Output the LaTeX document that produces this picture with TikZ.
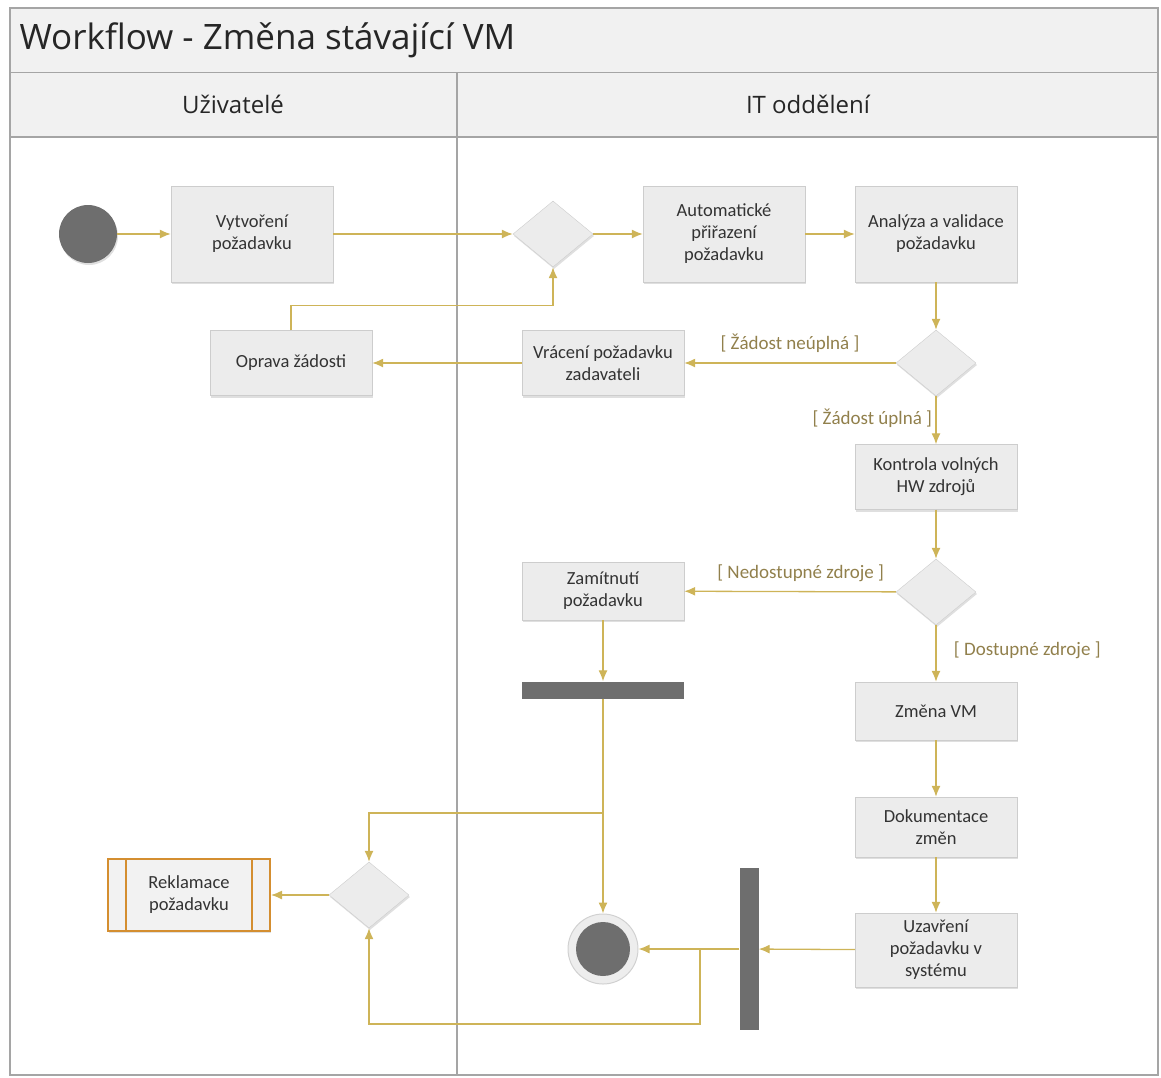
\documentclass[tikz,border=0pt]{standalone}
\usepackage{fontspec}
\setmainfont{Carlito}
\newfontfamily\headfont{Open Sans}
\usetikzlibrary{shapes.geometric,shadows,arrows.meta}
\definecolor{flow}{RGB}{206,180,88}
\definecolor{guard}{RGB}{145,128,76}
\definecolor{boxfill}{RGB}{236,236,236}
\definecolor{boxline}{RGB}{205,205,205}
\definecolor{dark}{RGB}{110,110,110}
\definecolor{lane}{RGB}{165,165,165}
\definecolor{band}{RGB}{241,241,241}
\definecolor{reklline}{RGB}{212,142,48}
\begin{document}
\begin{tikzpicture}[x=1pt,y=-1pt,>={Latex[length=11pt,width=9pt]},
  act/.style={draw=boxline,fill=boxfill,minimum width=162pt,inner sep=2pt,align=center,
    font=\fontsize{18.5}{22}\selectfont,text=black!80,
    drop shadow={shadow xshift=1pt,shadow yshift=-2pt,opacity=.25}},
  decision/.style={diamond,draw=boxline,fill=boxfill,minimum width=80pt,minimum height=66pt,inner sep=0pt,
    drop shadow={shadow xshift=1pt,shadow yshift=-2pt,opacity=.25}},
  bar/.style={fill=dark,draw=none,inner sep=0pt},
  flowline/.style={draw=flow,line width=1.3pt},
  guardlbl/.style={text=guard,font=\fontsize{19}{22}\selectfont}]
\useasboundingbox (0,0) rectangle (1161,1077);
% swimlanes
\fill[band] (10,8) rectangle (1158,137);
\draw[lane,line width=1pt] (10,72) -- (1158,72);
\draw[lane,line width=2pt] (10,137) -- (1158,137);
\draw[lane,line width=1.5pt] (10,8) rectangle (1158,1075);
\draw[lane,line width=2.5pt] (457,72) -- (457,1075);
\node[anchor=west,font=\headfont\fontsize{35}{40}\selectfont,text=black!85] (title) at (16,40) {Workflow - Změna stávající VM};
\node[font=\headfont\fontsize{24}{28}\selectfont,text=black!85] (lane1) at (233,104) {Uživatelé};
\node[font=\headfont\fontsize{24}{28}\selectfont,text=black!85] (lane2) at (808,104) {IT oddělení};
% nodes
\node[circle,fill=dark,minimum size=58pt,drop shadow={shadow xshift=1pt,shadow yshift=-2pt,opacity=.25}] (start) at (88,234) {};
\node[act,minimum height=96pt] (vytv) at (252,234) {Vytvoření\\požadavku};
\node[decision] (d1) at (553,234) {};
\node[act,minimum height=96pt] (auto) at (724,234) {Automatické\\přiřazení\\požadavku};
\node[act,minimum height=96pt] (anal) at (936,234) {Analýza a validace\\požadavku};
\node[decision] (d2) at (936,363) {};
\node[act,minimum height=65pt] (vrac) at (603,363) {Vrácení požadavku\\zadavateli};
\node[act,minimum height=65pt] (opr) at (291,363) {Oprava žádosti};
\node[act,minimum height=65pt] (kontr) at (936,477) {Kontrola volných\\HW zdrojů};
\node[decision] (d3) at (936,592) {};
\node[act,minimum height=58pt] (zam) at (603,591) {Zamítnutí\\požadavku};
\node[bar,minimum width=162pt,minimum height=17pt] (bar1) at (603,690) {};
\node[act,minimum height=58pt] (zmena) at (936,711) {Změna VM};
\node[act,minimum height=60pt] (dok) at (936,827) {Dokumentace\\změn};
\node[act,minimum height=74pt] (uzav) at (936,950) {Uzavření\\požadavku v\\systému};
\node[bar,minimum width=19pt,minimum height=162pt] (bar2) at (749,949) {};
\node[circle,minimum size=70pt,fill=black!7,draw=black!18,line width=1pt,
  path picture={\fill[dark] (path picture bounding box.center) circle (27pt);}] (end) at (603,949) {};
\node[decision] (d4) at (369,895) {};
\node[act,draw=reklline,line width=2pt,fill=black!5,minimum height=72pt] (rekl) at (189,895) {Reklamace\\požadavku};
\draw[reklline,line width=2pt] ([xshift=19pt]rekl.north west) -- ([xshift=19pt]rekl.south west);
\draw[reklline,line width=2pt] ([xshift=-19pt]rekl.north east) -- ([xshift=-19pt]rekl.south east);
\coordinate (fork1) at (603,813);
\coordinate (fork2) at (700,949);
% flows
\draw[flowline,->] (start) -- (vytv);
\draw[flowline,->] (vytv) -- (d1);
\draw[flowline,->] (d1) -- (auto);
\draw[flowline,->] (auto) -- (anal);
\draw[flowline,->] (anal) -- (d2);
\draw[flowline,->] (d2) -- node[guardlbl,above=6pt]{[ Žádost neúplná ]} (vrac);
\draw[flowline,->] (vrac) -- (opr);
\draw[flowline,->] (opr.north) -- ++(0,-25) -| (d1.south);
\draw[flowline,->] (d2) -- node[guardlbl,left,pos=.45]{[ Žádost úplná ]} (kontr);
\draw[flowline,->] (kontr) -- (d3);
\draw[flowline,->] (d3) -- node[guardlbl,above=6pt,pos=.45]{[ Nedostupné zdroje ]} (zam);
\draw[flowline,->] (d3) -- node[guardlbl,right,pos=.45,xshift=14pt]{[ Dostupné zdroje ]} (zmena);
\draw[flowline,->] (zam) -- (bar1);
\draw[flowline,->] (zmena) -- (dok);
\draw[flowline,->] (dok) -- (uzav);
\draw[flowline,->] (uzav) -- (bar2);
\draw[flowline,->] (bar2) -- (end);
\draw[flowline,->] (bar1) -- (end);
\draw[flowline,->] (fork1) -| (d4);
\draw[flowline,->] (fork2) -- ++(0,75) -| (d4.south);
\draw[flowline,->] (d4) -- (rekl);
\end{tikzpicture}
\end{document}
